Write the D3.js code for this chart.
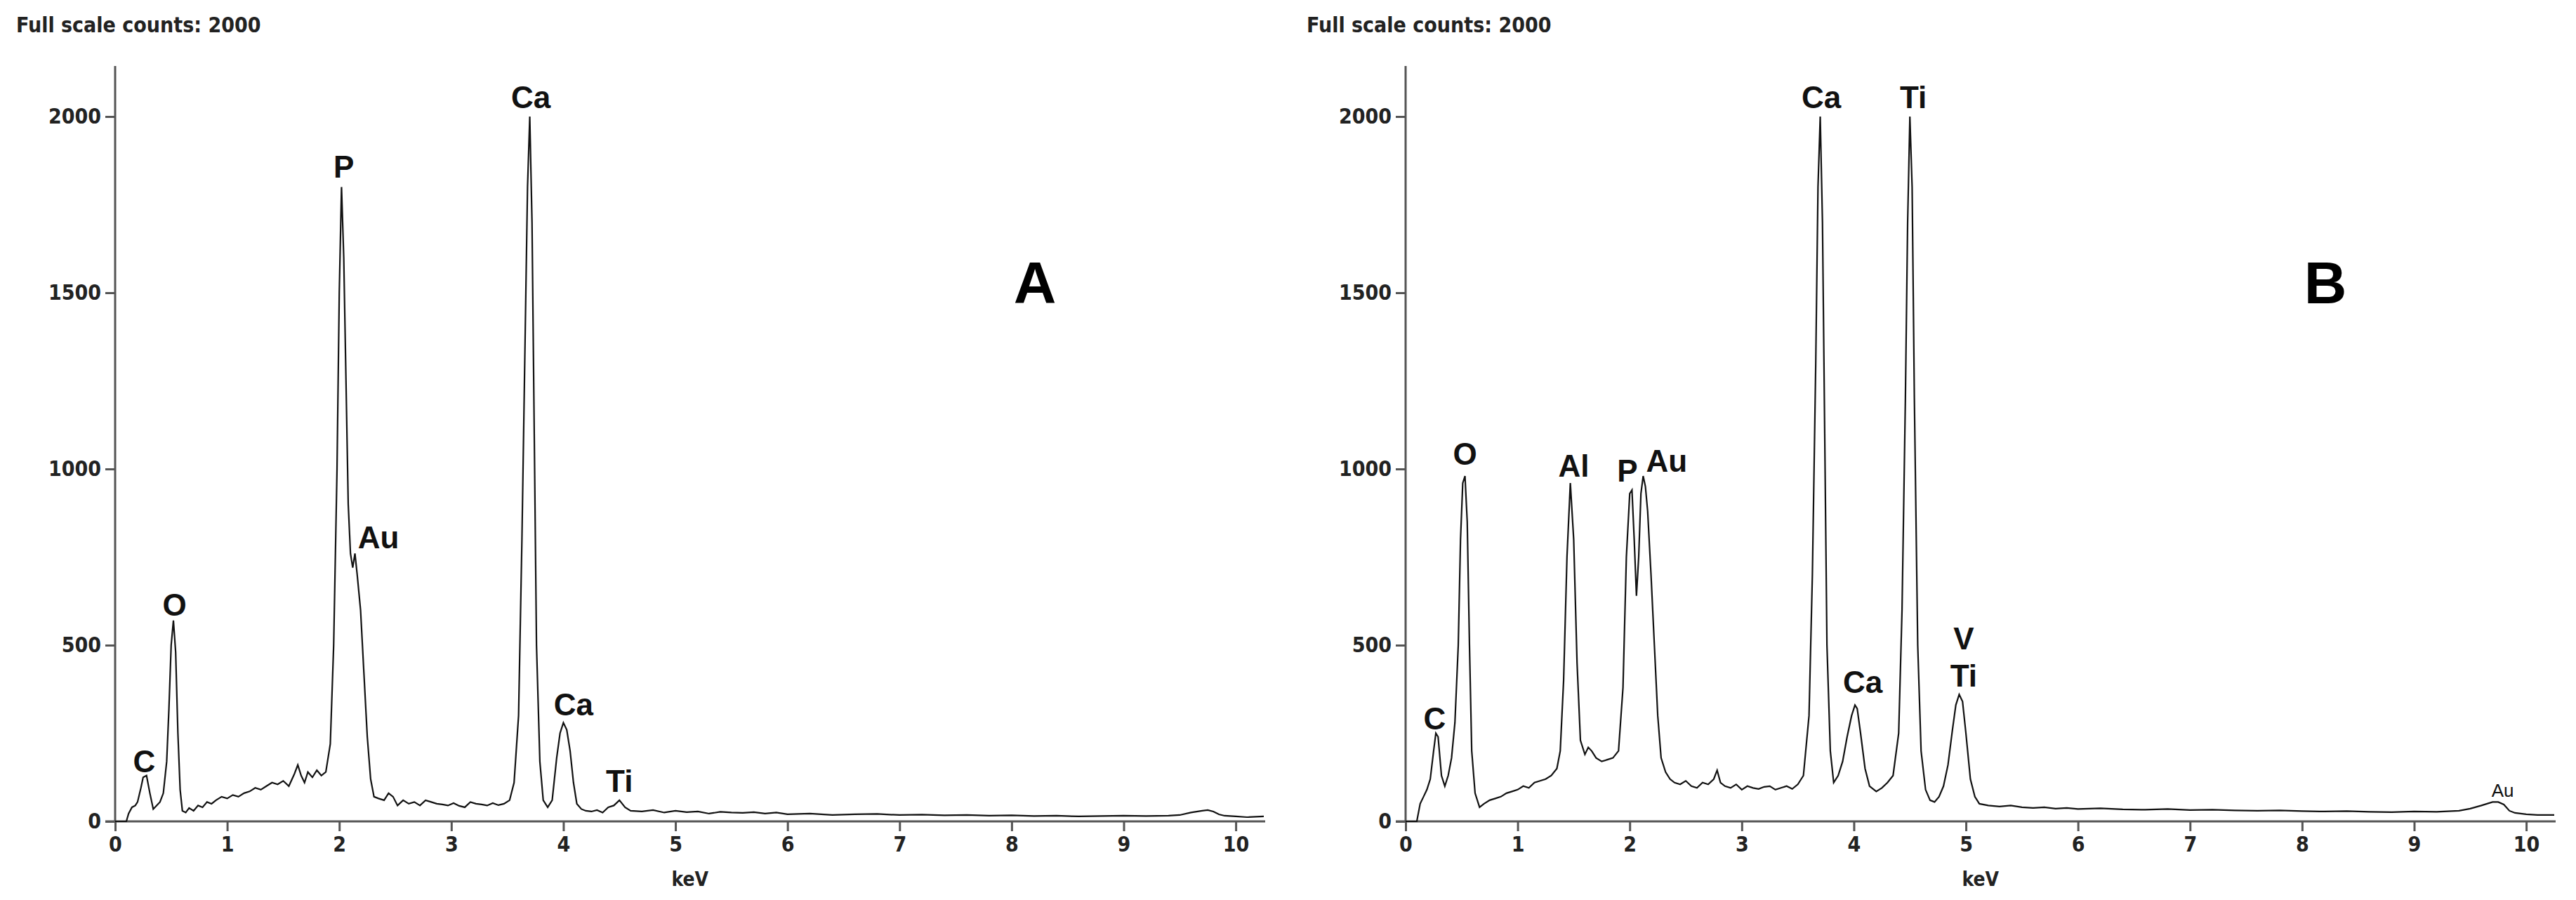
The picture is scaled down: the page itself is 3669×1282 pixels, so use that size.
<!DOCTYPE html>
<html><head><meta charset="utf-8">
<script src="https://cdn.jsdelivr.net/npm/d3@7"></script>
<style>body{margin:0;background:#fff}</style></head>
<body><svg id="c" width="3669" height="1282"></svg>
<script>
// ---------- data ----------
const xTicks = [0,1,2,3,4,5,6,7,8,9,10];
const yTicks = [0,500,1000,1500,2000];
const titleText = "Full scale counts: 2000";

// [keV, counts]
const spectrumA = [[0,0],[0.1,0],[0.12,22],[0.15,40],[0.18,45],[0.2,55],[0.23,95],[0.25,125],[0.28,130],[0.31,80],[0.34,35],[0.37,45],[0.4,55],[0.43,80],[0.46,170],[0.48,320],[0.5,500],[0.52,570],[0.54,480],[0.56,250],[0.58,90],[0.6,30],[0.63,25],[0.66,38],[0.7,30],[0.74,45],[0.78,40],[0.82,55],[0.86,50],[0.9,60],[0.95,70],[1.0,65],[1.05,75],[1.1,70],[1.15,80],[1.2,85],[1.25,95],[1.3,90],[1.35,100],[1.4,110],[1.45,105],[1.5,115],[1.55,100],[1.6,135],[1.63,160],[1.66,130],[1.69,110],[1.72,140],[1.76,125],[1.8,145],[1.84,130],[1.88,140],[1.92,220],[1.95,500],[1.98,1000],[2.0,1500],[2.02,1800],[2.04,1600],[2.06,1250],[2.08,900],[2.1,760],[2.12,720],[2.14,760],[2.16,700],[2.19,600],[2.22,420],[2.25,240],[2.28,120],[2.31,70],[2.35,65],[2.4,60],[2.44,80],[2.48,70],[2.52,45],[2.57,60],[2.62,50],[2.67,55],[2.72,45],[2.77,60],[2.82,55],[2.87,50],[2.92,48],[2.97,45],[3.02,52],[3.07,44],[3.12,40],[3.17,55],[3.22,50],[3.27,48],[3.32,45],[3.37,52],[3.42,46],[3.47,50],[3.52,60],[3.56,110],[3.6,300],[3.63,800],[3.66,1400],[3.68,1800],[3.7,2000],[3.72,1700],[3.74,1100],[3.76,500],[3.79,170],[3.82,60],[3.86,40],[3.9,60],[3.94,180],[3.97,250],[4.0,280],[4.03,260],[4.06,200],[4.09,110],[4.12,50],[4.16,35],[4.2,30],[4.25,28],[4.3,32],[4.35,25],[4.4,40],[4.45,45],[4.5,60],[4.55,40],[4.6,30],[4.7,28],[4.8,32],[4.9,25],[5.0,30],[5.1,26],[5.2,28],[5.3,22],[5.4,27],[5.5,25],[5.6,24],[5.7,26],[5.8,22],[5.9,25],[6.0,20],[6.2,22],[6.4,18],[6.6,20],[6.8,21],[7.0,18],[7.2,19],[7.4,17],[7.6,18],[7.8,16],[8.0,17],[8.2,15],[8.4,16],[8.6,14],[8.8,15],[9.0,16],[9.2,15],[9.4,16],[9.5,18],[9.6,25],[9.7,30],[9.75,32],[9.8,28],[9.85,20],[9.9,16],[10.0,14],[10.1,12],[10.25,14]];

const spectrumB = [[0,0],[0.1,0],[0.13,50],[0.16,70],[0.19,90],[0.22,120],[0.25,200],[0.27,250],[0.29,240],[0.32,130],[0.35,100],[0.38,130],[0.41,180],[0.44,280],[0.47,500],[0.49,800],[0.51,960],[0.53,980],[0.55,850],[0.57,500],[0.59,200],[0.62,80],[0.66,40],[0.7,50],[0.75,60],[0.8,65],[0.85,70],[0.9,80],[0.95,85],[1.0,90],[1.05,100],[1.1,95],[1.15,110],[1.2,115],[1.25,120],[1.3,130],[1.35,150],[1.38,200],[1.41,400],[1.44,750],[1.47,960],[1.5,800],[1.53,450],[1.56,230],[1.6,190],[1.63,210],[1.66,200],[1.7,180],[1.75,170],[1.8,175],[1.85,180],[1.9,200],[1.94,380],[1.97,750],[2.0,930],[2.02,940],[2.04,800],[2.06,640],[2.08,750],[2.1,930],[2.12,980],[2.14,950],[2.16,880],[2.19,700],[2.22,500],[2.25,300],[2.28,180],[2.32,140],[2.36,120],[2.4,110],[2.45,105],[2.5,115],[2.55,100],[2.6,95],[2.65,110],[2.7,105],[2.75,120],[2.78,145],[2.81,110],[2.85,100],[2.9,95],[2.95,105],[3.0,90],[3.05,100],[3.1,95],[3.15,92],[3.2,98],[3.25,100],[3.3,90],[3.35,95],[3.4,100],[3.45,92],[3.5,105],[3.55,130],[3.6,300],[3.63,700],[3.66,1300],[3.68,1800],[3.7,2000],[3.72,1700],[3.74,1100],[3.76,500],[3.79,200],[3.82,110],[3.86,130],[3.9,170],[3.94,240],[3.98,300],[4.01,330],[4.03,320],[4.06,250],[4.1,150],[4.14,100],[4.2,85],[4.25,95],[4.3,110],[4.35,130],[4.4,250],[4.43,600],[4.46,1200],[4.48,1700],[4.5,2000],[4.52,1800],[4.54,1200],[4.57,500],[4.6,200],[4.64,90],[4.68,60],[4.72,55],[4.76,70],[4.8,100],[4.84,160],[4.88,260],[4.91,330],[4.94,360],[4.97,340],[5.0,250],[5.04,120],[5.08,70],[5.12,50],[5.2,45],[5.3,42],[5.4,45],[5.5,40],[5.6,38],[5.7,40],[5.8,36],[5.9,38],[6.0,35],[6.2,37],[6.4,34],[6.6,33],[6.8,35],[7.0,32],[7.2,33],[7.4,31],[7.6,30],[7.8,31],[8.0,29],[8.2,28],[8.4,29],[8.6,27],[8.8,26],[9.0,28],[9.2,27],[9.4,30],[9.5,36],[9.6,45],[9.7,55],[9.75,55],[9.8,48],[9.85,30],[9.9,24],[10.0,20],[10.1,18],[10.25,18]];

const labelsA = [["C",0.26,140],["O",0.53,583],["P",2.04,1827],["Au",2.35,774],["Ca",3.71,2023],["Ca",4.09,300],["Ti",4.5,84]];
const labelsB = [["C",0.26,261],["O",0.53,1012],["Al",1.5,979],["P",1.98,965],["Au",2.33,993],["Ca",3.71,2023],["Ti",4.53,2023],["Ca",4.08,364],["V",4.98,489],["Ti",4.98,382]];
const smallLabelsB = [["Au",9.79,70]];
const panelLetters = ["A","B"];

// ---------- drawing ----------
const svg = d3.select("#c");
const axisFont = "'Liberation Sans Narrow','Arial Narrow','DejaVu Sans Condensed',sans-serif";
const panels = [
  {ox:0, data:spectrumA, labels:labelsA, small:[], letter:panelLetters[0]},
  {ox:1838, data:spectrumB, labels:labelsB, small:smallLabelsB, letter:panelLetters[1]}
];
panels.forEach(p => {
  const g = svg.append("g").attr("transform", `translate(${p.ox},0)`);
  const x = d3.scaleLinear().domain([0,10.25]).range([164,1800]);
  const y = d3.scaleLinear().domain([0,2000]).range([1170,166]);
  g.append("text").text(titleText).attr("x",23).attr("y",46)
    .attr("font-family",axisFont).attr("font-weight","bold").attr("font-size",30).attr("fill","#222");
  const ya = g.append("g").attr("transform","translate(164,0)")
    .call(d3.axisLeft(y).tickValues(yTicks).tickFormat(d3.format("d")).tickSize(14).tickPadding(6));
  ya.select(".domain").remove();
  g.append("line").attr("x1",164).attr("x2",164).attr("y1",94).attr("y2",1170).attr("stroke","#555").attr("stroke-width",3);
  const xa = g.append("g").attr("transform","translate(0,1170)")
    .call(d3.axisBottom(x).tickValues(xTicks).tickFormat(d3.format("d")).tickSize(14).tickPadding(8).tickSizeOuter(0));
  [ya,xa].forEach(a=>{
    a.selectAll("line").attr("stroke","#555").attr("stroke-width",3);
    a.selectAll(".domain").attr("stroke","#555").attr("stroke-width",3);
    a.selectAll("text").attr("font-family",axisFont).attr("font-weight","bold").attr("font-size",30).attr("fill","#222");
  });
  xa.select(".domain").attr("d",`M150,0H1802`);
  g.append("text").text("keV").attr("x",x(5.13)).attr("y",1262).attr("text-anchor","middle")
    .attr("font-family",axisFont).attr("font-weight","bold").attr("font-size",28).attr("fill","#222");
  g.append("path").datum(p.data).attr("fill","none").attr("stroke","#111").attr("stroke-width",2.2)
    .attr("d", d3.line().x(d=>x(d[0])).y(d=>y(d[1])));
  g.selectAll("text.pk").data(p.labels).enter().append("text").attr("class","pk")
    .attr("x",d=>x(d[1])).attr("y",d=>y(d[2])).attr("text-anchor","middle")
    .attr("font-family","'Liberation Sans',Arial,sans-serif").attr("font-weight","bold").attr("font-size",44).attr("fill","#111")
    .text(d=>d[0]);
  g.selectAll("text.sm").data(p.small).enter().append("text").attr("class","sm")
    .attr("x",d=>x(d[1])).attr("y",d=>y(d[2])).attr("text-anchor","middle")
    .attr("font-family","'Liberation Sans',Arial,sans-serif").attr("font-size",26).attr("fill","#111")
    .text(d=>d[0]);
  g.append("text").text(p.letter).attr("x",1474).attr("y",432).attr("text-anchor","middle")
    .attr("font-family","'Liberation Sans',Arial,sans-serif").attr("font-weight","bold").attr("font-size",84).attr("fill","#000");
});
</script></body></html>
